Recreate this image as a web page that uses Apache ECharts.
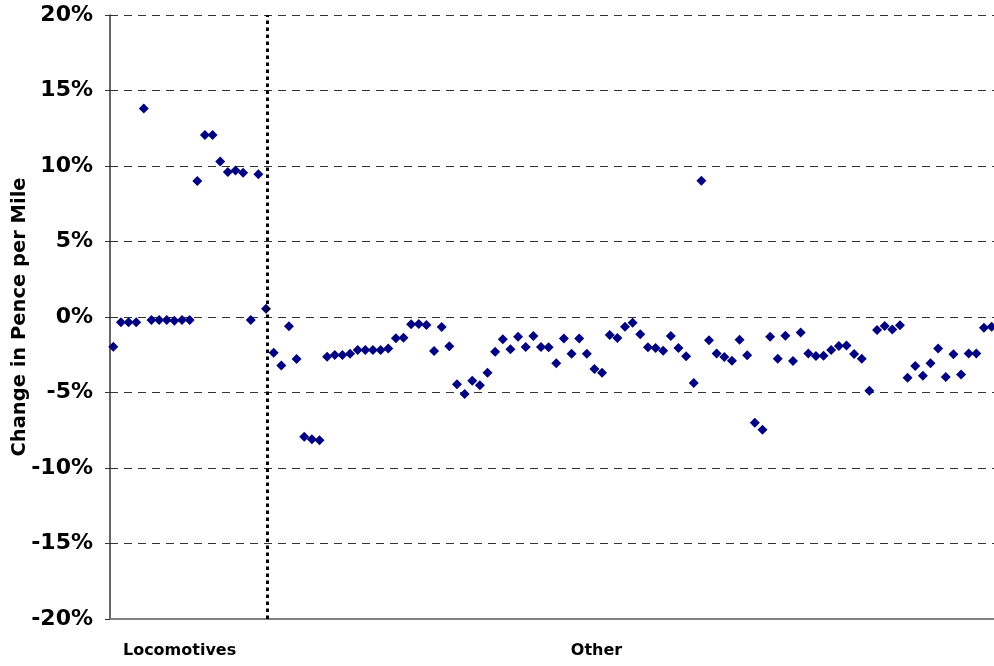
<!DOCTYPE html>
<html>
<head>
<meta charset="utf-8">
<script src="https://cdn.jsdelivr.net/npm/echarts@6/dist/echarts.min.js"></script>
<style>
  html, body { margin: 0; padding: 0; background: #fff; overflow: hidden; }
  /* plot runs a few px past the window edge, so the last point is cut off */
  #chart { width: 1000px; height: 666px; }
</style>
</head>
<body>
<div id="chart"></div>
<script>
// change in pence per mile (%), one value per vehicle class, in plotted order
var locomotives = [
  -1.97, -0.35, -0.35, -0.35, 13.8, -0.2, -0.2, -0.2, -0.25, -0.2,
  -0.2, 9.0, 12.05, 12.05, 10.3, 9.6, 9.7, 9.55, -0.2, 9.45, 0.55
];
var other = [
  -2.36, -3.22, -0.62, -2.78, -7.93, -8.1, -8.17, -2.63, -2.52, -2.52,
  -2.43, -2.19, -2.19, -2.19, -2.19, -2.08, -1.4, -1.38, -0.48, -0.46,
  -0.53, -2.25, -0.66, -1.94, -4.46, -5.1, -4.22, -4.52, -3.69, -2.3,
  -1.48, -2.14, -1.3, -1.99, -1.26, -1.98, -2.0, -3.07, -1.43, -2.43,
  -1.43, -2.43, -3.44, -3.69, -1.19, -1.39, -0.64, -0.38, -1.15, -2.0,
  -2.05, -2.23, -1.26, -2.06, -2.6, -4.37, 9.03, -1.54, -2.41, -2.65,
  -2.89, -1.5, -2.54, -7.0, -7.46, -1.3, -2.76, -1.24, -2.91, -1.02,
  -2.41, -2.59, -2.57, -2.19, -1.92, -1.88, -2.45, -2.76, -4.88, -0.86,
  -0.6, -0.82, -0.55, -4.02, -3.25, -3.89, -3.07, -2.08, -3.97, -2.47,
  -3.8, -2.41, -2.41, -0.71, -0.64, 6.54
];
var groupNames = ['Locomotives', 'Other'];
var yTicks = [-20, -15, -10, -5, 0, 5, 10, 15, 20];

var font = 'DejaVu Sans';
var navy = '#000080';

// x position is just the running index of each class
var locoPoints = locomotives.map(function (v, i) { return [i, v]; });
var otherPoints = other.map(function (v, i) { return [locomotives.length + i, v]; });
var splitAt = locomotives.length - 1 + 0.1;

// where the two group captions sit along the x axis
var groupLabelAt = [8.68, 63.27];

var chart = echarts.init(document.getElementById('chart'));
chart.setOption({
  animation: false,
  grid: { left: 110, right: 0, top: 15, bottom: 47, containLabel: false, outerBoundsMode: 'none' },
  xAxis: {
    type: 'value',
    min: -0.43,
    max: 116.1,
    axisLine: { show: true, onZero: false, lineStyle: { color: '#808080', width: 2 } },
    axisTick: { show: false },
    splitLine: { show: false },
    axisLabel: {
      customValues: groupLabelAt,
      margin: 24,
      fontFamily: font,
      fontWeight: 'bold',
      fontSize: 16,
      color: '#000',
      formatter: function (v) {
        return v < 30 ? groupNames[0] : groupNames[1];
      }
    }
  },
  yAxis: {
    type: 'value',
    min: yTicks[0],
    max: yTicks[yTicks.length - 1],
    interval: 5,
    name: 'Change in Pence per Mile',
    nameLocation: 'middle',
    nameGap: 80,
    nameRotate: 90,
    nameMoveOverlap: false,
    nameTextStyle: { fontFamily: font, fontWeight: 'bold', fontSize: 19.5, color: '#000' },
    axisLine: { show: true, onZero: false, lineStyle: { color: '#333', width: 1.5 } },
    axisTick: { show: true, inside: false, length: 5, lineStyle: { color: '#333' } },
    splitLine: { show: true, lineStyle: { color: '#333', width: 1, type: [8, 6] } },
    axisLabel: {
      margin: 17,
      fontFamily: font,
      fontWeight: 'bold',
      fontSize: 22,
      color: '#000',
      formatter: function (v) { return v + '%'; }
    }
  },
  series: [
    {
      type: 'scatter',
      data: [],
      z: 1,
      markLine: {
        silent: true,
        symbol: 'none',
        label: { show: false },
        lineStyle: { color: '#000', width: 3, type: [3.5, 3.5] },
        data: [{ xAxis: splitAt }]
      }
    },
    {
      name: groupNames[0],
      type: 'scatter',
      symbol: 'diamond',
      symbolSize: 10,
      itemStyle: { color: navy, opacity: 1 },
      z: 3,
      data: locoPoints
    },
    {
      name: groupNames[1],
      type: 'scatter',
      symbol: 'diamond',
      symbolSize: 10,
      itemStyle: { color: navy, opacity: 1 },
      z: 3,
      data: otherPoints
    }
  ]
});
</script>
</body>
</html>
